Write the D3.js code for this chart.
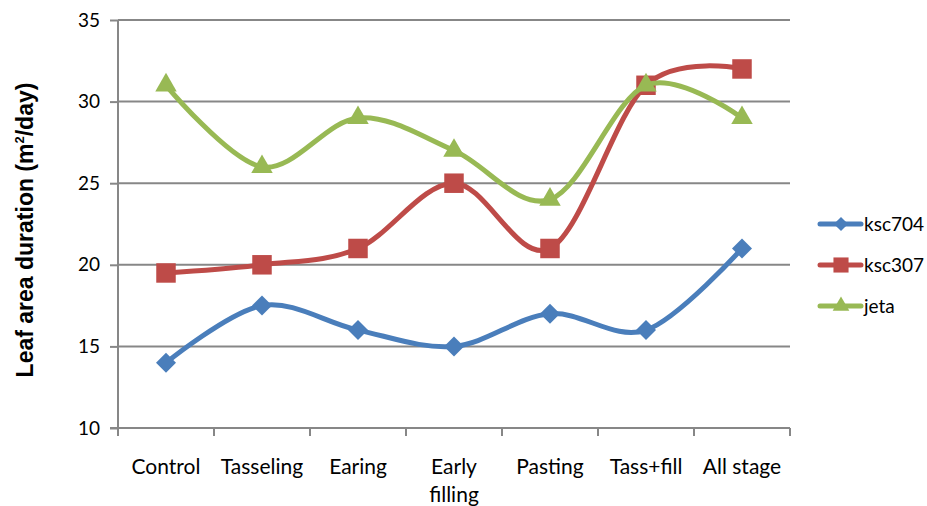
<!DOCTYPE html>
<html>
<head>
<meta charset="utf-8">
<script src="https://cdn.jsdelivr.net/npm/d3@7"></script>
<style>
  html, body { margin: 0; padding: 0; background: #fff; }
  svg { display: block; }
</style>
</head>
<body>
<svg id="chart" width="927" height="506"></svg>
<script>
// Growth stages (x categories)
const stages = ["Control", "Tasseling", "Earing", "Early filling", "Pasting", "Tass+fill", "All stage"];
// Leaf area duration per cultivar
const ksc704 = [14, 17.5, 16, 15, 17, 16, 21];
const ksc307 = [19.5, 20, 21, 25, 21, 31, 32];
const jeta   = [31, 26, 29, 27, 24, 31, 29];
const yTicks = [10, 15, 20, 25, 30, 35];

const series = [
  { name: "ksc704", values: ksc704, color: "#4a7ebb", symbol: d3.symbolSquare, size: 200, rot: 45, legendScale: 0.5 },
  { name: "ksc307", values: ksc307, color: "#be4b48", symbol: d3.symbolSquare, size: 380, rot: 0, legendScale: 0.6 },
  { name: "jeta",   values: jeta,   color: "#98b954", symbol: d3.symbolTriangle, size: 200, rot: 0, legendScale: 0.6 }
];

const svg = d3.select("#chart");
const plotL = 118, plotR = 790, plotT = 20, plotB = 428;

const x = d3.scaleBand().domain(stages).range([plotL, plotR]);
const y = d3.scaleLinear().domain([10, 35]).range([plotB, plotT]);
const cx = s => x(s) + x.bandwidth() / 2;

const font = "Lato, 'Open Sans', sans-serif";
const gridColor = "#878787";

// Horizontal gridlines
svg.append("g").selectAll("line").data(yTicks.filter(t => t > 10)).join("line")
  .attr("x1", plotL).attr("x2", plotR)
  .attr("y1", d => y(d)).attr("y2", d => y(d))
  .attr("stroke", gridColor).attr("stroke-width", 2);

// Y axis
const yAxis = svg.append("g").attr("transform", `translate(${plotL},0)`)
  .call(d3.axisLeft(y).tickValues(yTicks).tickSize(8).tickPadding(10));
yAxis.select(".domain").attr("stroke", gridColor).attr("stroke-width", 2)
  .attr("d", `M0,${plotT}V${plotB + 8}`);
yAxis.selectAll(".tick line").attr("stroke", gridColor).attr("stroke-width", 2);
yAxis.selectAll(".tick text").attr("font-family", font).attr("font-size", 19).attr("fill", "#000");

// X axis
const xAxis = svg.append("g").attr("transform", `translate(0,${plotB})`);
xAxis.append("line").attr("x1", plotL - 8).attr("x2", plotR).attr("y1", 0).attr("y2", 0)
  .attr("stroke", gridColor).attr("stroke-width", 2);
const bounds = stages.map(s => x(s)).concat([plotR]);
xAxis.selectAll("line.tk").data(bounds).join("line").attr("class", "tk")
  .attr("x1", d => d).attr("x2", d => d).attr("y1", 0).attr("y2", 8)
  .attr("stroke", gridColor).attr("stroke-width", 2);

const xLabels = xAxis.selectAll("text").data(stages).join("text")
  .attr("text-anchor", "middle")
  .attr("font-family", font).attr("font-size", 21).attr("fill", "#000")
  .attr("transform", d => `translate(${cx(d)},46)`);
xLabels.each(function (d) {
  const words = d === "Early filling" ? ["Early", "filling"] : [d];
  d3.select(this).selectAll("tspan").data(words).join("tspan")
    .attr("x", 0).attr("dy", (w, i) => i === 0 ? 0 : 28).text(w => w);
});

// Y axis title
const title = svg.append("text")
  .attr("transform", `translate(33,230) rotate(-90)`)
  .attr("text-anchor", "middle")
  .attr("font-family", "'Liberation Sans', Arial, sans-serif")
  .attr("font-weight", "bold").attr("font-size", 23).attr("fill", "#000");
title.append("tspan").text("Leaf area duration (m");
title.append("tspan").attr("font-size", 13).attr("dy", -9).text("2");
title.append("tspan").attr("dy", 9).text("/day)");

// Series lines and markers
const line = d3.line()
  .x((d, i) => cx(stages[i]))
  .y(d => y(d))
  .curve(d3.curveCardinal.tension(0));

series.forEach(s => {
  svg.append("path").datum(s.values)
    .attr("d", line).attr("fill", "none")
    .attr("stroke", s.color).attr("stroke-width", 5)
    .attr("stroke-linecap", "round").attr("stroke-linejoin", "round");
  svg.append("g").selectAll("path").data(s.values).join("path")
    .attr("d", d3.symbol().type(s.symbol).size(s.size))
    .attr("transform", (d, i) => `translate(${cx(stages[i])},${y(d)}) rotate(${s.rot})`)
    .attr("fill", s.color);
});

// Legend
const legend = svg.append("g");
series.forEach((s, i) => {
  const ly = 224 + i * 41;
  legend.append("line").attr("x1", 820).attr("x2", 861).attr("y1", ly).attr("y2", ly)
    .attr("stroke", s.color).attr("stroke-width", 5).attr("stroke-linecap", "round");
  legend.append("path")
    .attr("d", d3.symbol().type(s.symbol).size(s.size * s.legendScale))
    .attr("transform", `translate(841,${ly}) rotate(${s.rot})`).attr("fill", s.color);
  legend.append("text").attr("x", 864).attr("y", ly).attr("dy", "0.36em")
    .attr("font-family", font).attr("font-size", 19).attr("fill", "#000").text(s.name);
});
</script>
</body>
</html>
